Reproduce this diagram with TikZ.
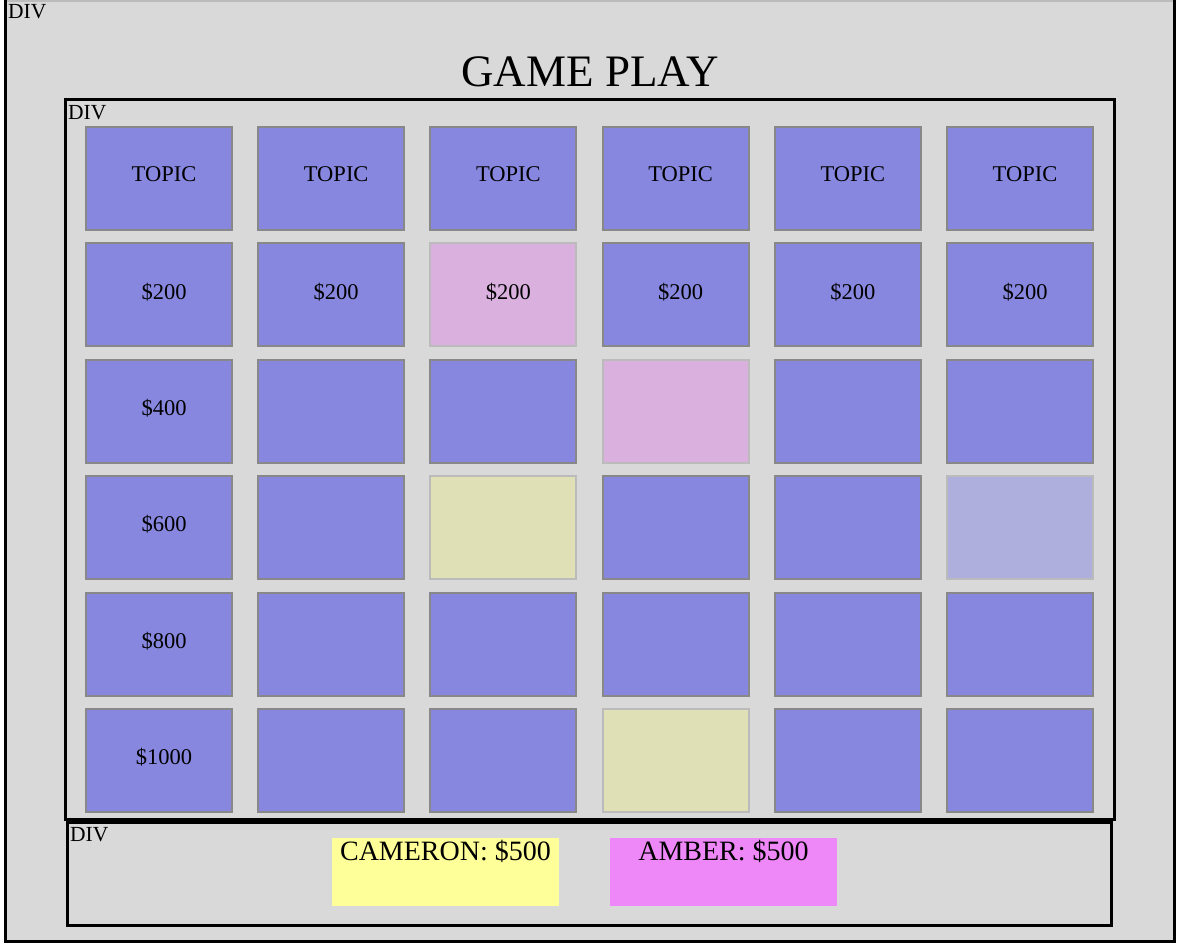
\documentclass[tikz,border=0pt]{standalone}
\usepackage{fontspec}
\setmainfont{Liberation Serif}

\definecolor{pagegray}{HTML}{D9D9D9}
\definecolor{boardblue}{HTML}{8787DF}
\definecolor{cellline}{HTML}{888888}
\definecolor{paleline}{HTML}{BBBBBB}
\definecolor{answeredpink}{HTML}{D9B0DE}
\definecolor{missedkhaki}{HTML}{E0E0B6}
\definecolor{fadedblue}{HTML}{AFAFDE}
\definecolor{playeryellow}{HTML}{FFFF99}
\definecolor{playerpink}{HTML}{EE88F8}

\newcommand\celltext[1]{\hspace*{10pt}\raisebox{8pt}{#1}}

\tikzset{
    cell 1-2/.style={answered},
    cell 2-3/.style={answered},
    cell 3-2/.style={missed},
    cell 5-3/.style={missed},
    cell 3-5/.style={faded}
}

\begin{document}
\begin{tikzpicture}[x=1pt, y=-1pt,
    cell/.style={draw=cellline, fill=boardblue, line width=2pt,
        minimum width=146pt, minimum height=103pt, inner sep=0pt,
        font=\fontsize{22.5}{22.5}\selectfont},
    answered/.style={fill=answeredpink, draw=paleline},
    missed/.style={fill=missedkhaki, draw=paleline},
    faded/.style={fill=fadedblue, draw=paleline},
    divbox/.style={draw=black, line width=3pt},
    divtag/.style={anchor=north west, inner sep=1pt, font=\fontsize{21.5}{21.5}\selectfont},
    player/.style={minimum width=227pt, inner xsep=0pt, inner ysep=2pt,
        text height=20pt, text depth=44pt, font=\fontsize{28}{28}\selectfont}]

\useasboundingbox (0,0) rectangle (1186,946);

% page div
\fill[pagegray] (5,0) rectangle (1174,941);
\draw[paleline, line width=1.5pt] (5,0.75) -- (1174,0.75);
\draw[black, line width=3pt] (5,0) -- (5,941) -- (1174,941) -- (1174,0);
\node[divtag] (pagetag) at (7,3) {DIV};
\node[anchor=base, font=\fontsize{45}{45}\selectfont] (title) at (590,86) {GAME PLAY};

% board div
\draw[divbox] (65,99) rectangle (1114,819);
\node[divtag] (boardtag) at (67,104) {DIV};

\foreach \c in {0,...,5} {
    \node[cell] (cell-0-\c) at ({159+172.2*\c},178.5) {\celltext{TOPIC}};
}

\foreach \r in {1,...,5} {
    \foreach \c in {0,...,5} {
        \pgfmathtruncatemacro\val{200*\r}
        \ifnum\c=0 \def\txt{\$\val}\else
            \ifnum\r=1 \def\txt{\$\val}\else \def\txt{}\fi
        \fi
        \node[cell, cell \r-\c/.try] (cell-\r-\c) at ({159+172.2*\c},{178.5+116.4*\r}) {\celltext{\txt}};
    }
}

% score div
\draw[divbox] (67,822) rectangle (1111,925);
\node[divtag] (scoretag) at (69,826) {DIV};
\node[player, fill=playeryellow] (cameron) at (445.5,872) {CAMERON: \$500};
\node[player, fill=playerpink] (amber) at (723.5,872) {AMBER: \$500};
\end{tikzpicture}
\end{document}
